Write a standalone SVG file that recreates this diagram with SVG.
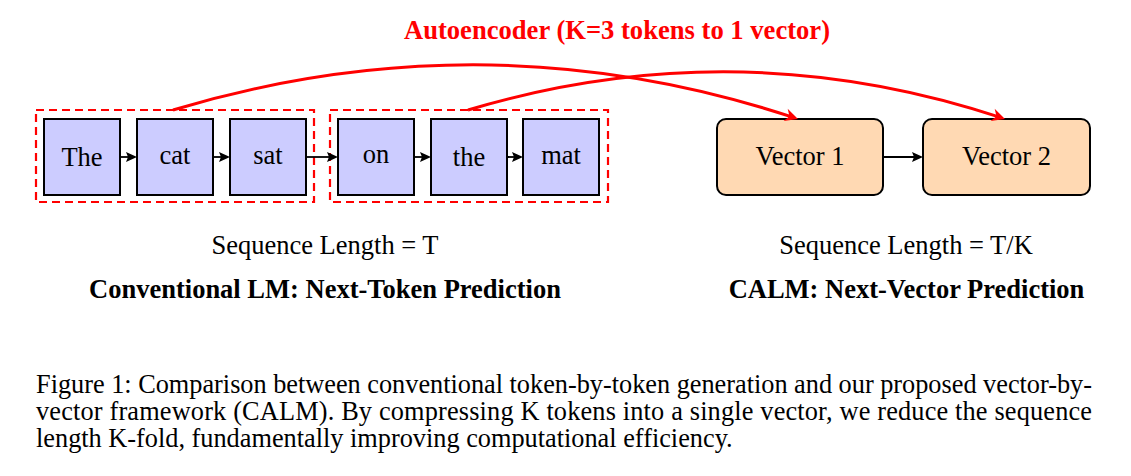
<svg xmlns="http://www.w3.org/2000/svg" width="1131" height="476" viewBox="0 0 1131 476">
<style>
text{font-family:"Liberation Serif","Times New Roman",serif;fill:#000}
.tok{fill:#ccccff;stroke:#000;stroke-width:2}
.vec{fill:#ffd9b3;stroke:#000;stroke-width:2}
.lbl{font-size:26.5px;text-anchor:middle}
.grp{fill:none;stroke:#ff0000;stroke-width:2.2;stroke-dasharray:8 5}
.ar{fill:none;stroke:#000;stroke-width:1.8}
.red{fill:none;stroke:#ff0000;stroke-width:3}
.bold{font-weight:bold}
.cap{font-size:26.3px}
</style>
<defs>
<marker id="bh" markerUnits="userSpaceOnUse" orient="auto" refX="0" refY="0" markerWidth="20" markerHeight="20" overflow="visible">
<path d="M4,0 L-7,-5 L-5,0 L-7,5 Z" fill="#000"/>
</marker>
<marker id="rh" markerUnits="userSpaceOnUse" orient="auto" refX="0" refY="0" markerWidth="24" markerHeight="24" overflow="visible">
<path d="M4,0 L-9,-6.5 L-5,0 L-9,6.5 Z" fill="#ff0000"/>
</marker>
</defs>

<text x="617" y="39" class="bold" font-size="26.6" text-anchor="middle" style="fill:#ff0000">Autoencoder (K=3 tokens to 1 vector)</text>

<g id="group1"><rect x="36" y="110" width="278" height="92" class="grp"/></g>
<g id="group2"><rect x="330" y="110" width="278" height="92" class="grp"/></g>

<g id="tok-The"><rect x="44" y="119" width="76" height="76" class="tok"/><text x="82" y="165.5" class="lbl">The</text></g>
<g id="tok-cat"><rect x="137" y="119" width="76" height="76" class="tok"/><text x="175" y="164.3" class="lbl">cat</text></g>
<g id="tok-sat"><rect x="230" y="119" width="76" height="76" class="tok"/><text x="268" y="164.3" class="lbl">sat</text></g>
<g id="tok-on"><rect x="338" y="119" width="76" height="76" class="tok"/><text x="376" y="162.8" class="lbl">on</text></g>
<g id="tok-the"><rect x="431" y="119" width="76" height="76" class="tok"/><text x="469" y="165.5" class="lbl">the</text></g>
<g id="tok-mat"><rect x="523" y="119" width="76" height="76" class="tok"/><text x="561" y="164.3" class="lbl">mat</text></g>

<g id="vec1"><rect x="717" y="119" width="166" height="76" rx="9" class="vec"/><text x="800" y="165.3" class="lbl">Vector 1</text></g>
<g id="vec2"><rect x="923" y="119" width="167" height="76" rx="9" class="vec"/><text x="1006.5" y="165.3" class="lbl">Vector 2</text></g>

<g id="connectors">
<path d="M121,157 L133,157" class="ar" marker-end="url(#bh)"/>
<path d="M214,157 L226,157" class="ar" marker-end="url(#bh)"/>
<path d="M307,157 L334,157" class="ar" marker-end="url(#bh)"/>
<path d="M415,157 L427,157" class="ar" marker-end="url(#bh)"/>
<path d="M508,157 L519,157" class="ar" marker-end="url(#bh)"/>
<path d="M884,157 L919,157" class="ar" marker-end="url(#bh)"/>
<path d="M173,110 Q487,16 794.2,117.7" class="red" marker-end="url(#rh)"/>
<path d="M468,110 Q736.5,30 1001.2,117.7" class="red" marker-end="url(#rh)"/>
</g>

<text x="325" y="254" class="lbl">Sequence Length = T</text>
<text x="906" y="254" class="lbl">Sequence Length = T/K</text>
<text x="325" y="298" class="lbl bold">Conventional LM: Next-Token Prediction</text>
<text x="906.5" y="298" class="lbl bold">CALM: Next-Vector Prediction</text>

<text x="36" y="393" class="cap" textLength="1056" lengthAdjust="spacing">Figure 1: Comparison between conventional token-by-token generation and our proposed vector-by-</text>
<text x="36" y="420" class="cap" textLength="1056" lengthAdjust="spacing">vector framework (CALM). By compressing K tokens into a single vector, we reduce the sequence</text>
<text x="36" y="447" class="cap">length K-fold, fundamentally improving computational efficiency.</text>
</svg>
